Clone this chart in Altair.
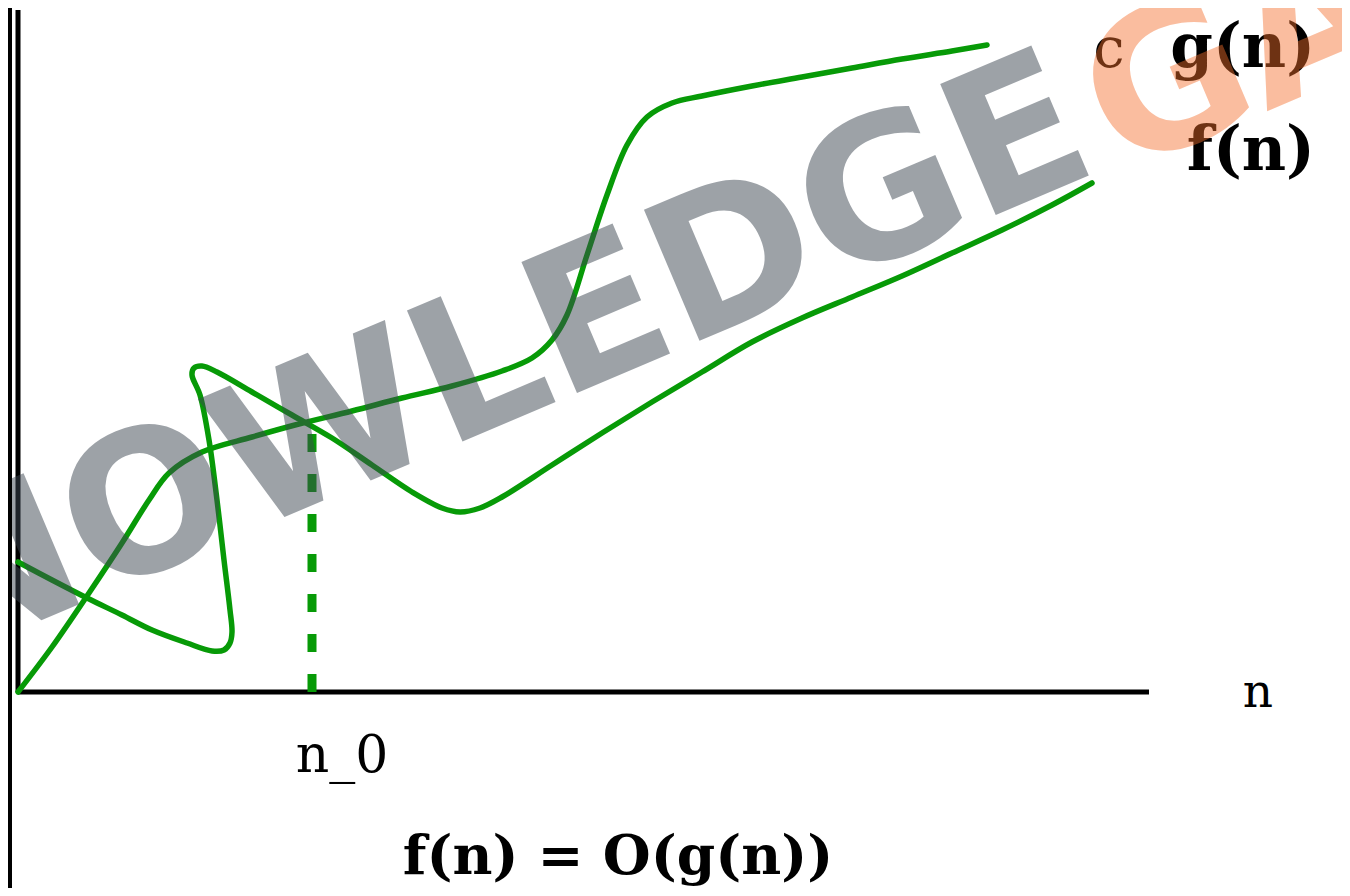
import altair as alt
import pandas as pd

# ---- data (n on the horizontal axis, value on the vertical axis; origin at the axes corner)
cg_n = [0, 34, 71, 104, 131, 151, 184, 234, 277, 334, 384, 434, 484, 514, 534, 549,
        569, 589, 609, 629, 654, 684, 734, 784, 834, 884, 934, 969]
cg_v = [0, 45, 99, 149, 192, 219, 240, 255, 267, 281, 294, 306, 321, 334, 352, 377,
        437, 497, 547, 575, 589, 596, 606, 615, 624, 633, 641, 647]

f_n = [0, 34, 69, 104, 134, 169, 194, 206, 212, 214, 212, 206, 199, 191, 182, 174,
       176, 184, 199, 234, 274, 314, 354, 394, 424, 442, 462, 484, 534, 584, 634, 684,
       734, 784, 834, 884, 934, 984, 1034, 1074]
f_v = [130, 112, 94, 77, 62, 49, 41, 42, 49, 60, 82, 132, 192, 252, 297, 317,
       324, 326, 320, 300, 277, 254, 227, 200, 184, 180, 184, 195, 227, 259, 290, 320,
       350, 374, 395, 416, 439, 462, 487, 509]

series_names = ["c g(n)", "f(n)"]
n0_value = 294
n0_top = 262
axis_n_end = 1131
axis_v_end = 682

labels_text = ["c", "g(n)", "f(n)", "n", "n_0", "f(n) = O(g(n))"]
watermark_words = ["KNOWLEDGE", "GATE"]

# ---- tables
rows = []
for i, (a, b) in enumerate(zip(cg_n, cg_v)):
    rows.append({"n": a, "v": b, "series": series_names[0], "idx": i})
for i, (a, b) in enumerate(zip(f_n, f_v)):
    rows.append({"n": a, "v": b, "series": series_names[1], "idx": i})
curves = pd.DataFrame(rows)

axes_df = pd.DataFrame({"n": [0, 0], "v": [0, 0], "n2": [0, axis_n_end], "v2": [axis_v_end, 0]})
n0_df = pd.DataFrame({"n": [n0_value], "v": [0], "v2": [n0_top]})

xs = alt.Scale(domain=[-10, 1324], nice=False, zero=False)
ys = alt.Scale(domain=[-196, 684], nice=False, zero=False)
GREEN = "#079a07"

axes_layer = alt.Chart(axes_df).mark_rule(color="black", strokeWidth=5).encode(
    x=alt.X("n:Q", scale=xs, axis=None),
    y=alt.Y("v:Q", scale=ys, axis=None),
    x2="n2:Q",
    y2="v2:Q",
)

lines_layer = alt.Chart(curves).mark_line(
    color=GREEN, strokeWidth=5.5, strokeJoin="round", strokeCap="round",
    interpolate="catmull-rom",
).encode(
    x=alt.X("n:Q", scale=xs, axis=None),
    y=alt.Y("v:Q", scale=ys, axis=None),
    detail="series:N",
    order="idx:Q",
)

dash_layer = alt.Chart(n0_df).mark_rule(color=GREEN, strokeWidth=9, strokeDash=[18, 22]).encode(
    x=alt.X("n:Q", scale=xs, axis=None),
    y=alt.Y("v:Q", scale=ys, axis=None),
    y2="v2:Q",
)


def label(text, px, py, size, weight="normal", align="left"):
    return alt.Chart(pd.DataFrame({"t": [text]})).mark_text(
        font="DejaVu Serif", fontSize=size, fontWeight=weight, align=align,
        baseline="alphabetic", color="black",
    ).encode(text="t:N", x=alt.value(px), y=alt.value(py))


text_layers = [
    label(labels_text[0], 1101, 59, 56, "normal", "center"),
    label(labels_text[1], 1307, 59, 61, "bold", "right"),
    label(labels_text[2], 1307, 162, 61, "bold", "right"),
    label(labels_text[3], 1250, 699, 47, "normal", "center"),
    label(labels_text[4], 334, 764, 52, "normal", "center"),
    label(labels_text[5], 610, 866, 55, "bold", "center"),
]


def wm(text, px, py, color, opacity, align):
    return alt.Chart(pd.DataFrame({"t": [text]})).mark_text(
        font="DejaVu Sans", fontSize=195, fontWeight="bold", align=align,
        baseline="alphabetic", angle=337, color=color, opacity=opacity,
    ).encode(text="t:N", x=alt.value(px), y=alt.value(py))


wm_layers = [
    wm(watermark_words[0], 1094, 162, "#3d4752", 0.5, "right"),
    wm(watermark_words[1], 1111, 166, "#f46f2c", 0.45, "left"),
]

edge = alt.Chart(pd.DataFrame({"t": [0]})).mark_rect(color="black").encode(
    x=alt.value(0), x2=alt.value(4), y=alt.value(0), y2=alt.value(880)
)

chart = alt.layer(
    axes_layer, lines_layer, dash_layer, *text_layers, *wm_layers, edge
).properties(
    width=1334, height=880, padding=0, autosize=alt.AutoSizeParams(type="none"),
    background="white",
).configure_view(stroke=None)

chart.save("out.html", embed_options={"renderer": "svg", "actions": False})
